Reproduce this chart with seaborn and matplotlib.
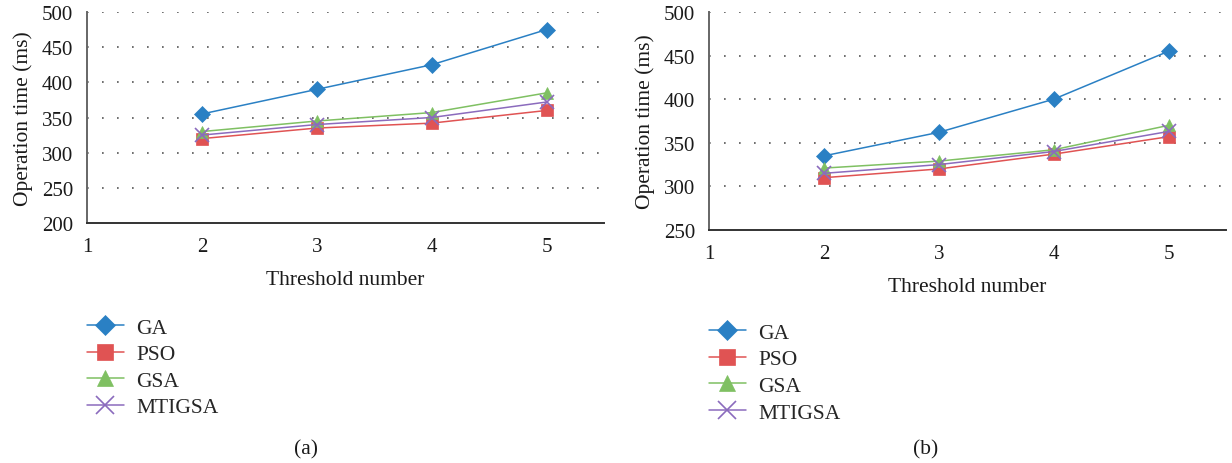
import pandas as pd
import numpy as np
import matplotlib.pyplot as plt
import seaborn as sns

thresholds = [2, 3, 4, 5]
methods = ["GA", "PSO", "GSA", "MTIGSA"]

# panel (a)
ga_a = [355, 390, 425, 475]
pso_a = [320, 335, 342, 360]
gsa_a = [330, 345, 357, 385]
mtigsa_a = [325, 340, 350, 372]

# panel (b)
ga_b = [335, 362, 400, 455]
pso_b = [310, 320, 337, 357]
gsa_b = [321, 329, 342, 370]
mtigsa_b = [315, 325, 340, 363]

colors = {"GA": "#2a80c4", "PSO": "#e05353", "GSA": "#7fc062", "MTIGSA": "#8b6bbd"}
markers = {"GA": "D", "PSO": "s", "GSA": "^", "MTIGSA": "x"}
msizes = {"GA": 8, "PSO": 9, "GSA": 9, "MTIGSA": 10}


def make_df(ga, pso, gsa, mtigsa):
    rows = []
    for name, vals in zip(methods, [ga, pso, gsa, mtigsa]):
        for t, v in zip(thresholds, vals):
            rows.append({"Threshold number": t, "Operation time (ms)": v, "method": name})
    return pd.DataFrame(rows)


sns.set_style("white")
plt.rcParams["font.family"] = ["Liberation Serif", "DejaVu Serif"]

fig = plt.figure(figsize=(12.32, 4.64), dpi=100)
ax_a = fig.add_axes([87 / 1232, 1 - 224 / 464, 517 / 1232, 211 / 464])
ax_b = fig.add_axes([709 / 1232, 1 - 231 / 464, 517 / 1232, 218 / 464])

panels = [
    (ax_a, make_df(ga_a, pso_a, gsa_a, mtigsa_a), (200, 500), 0.313, "(a)", 306),
    (ax_b, make_df(ga_b, pso_b, gsa_b, mtigsa_b), (250, 500), 0.302, "(b)", 926),
]

for ax, df, ylim, leg_y, tag, tag_x in panels:
    for name in methods:
        sub = df[df["method"] == name]
        sns.lineplot(data=sub, x="Threshold number", y="Operation time (ms)", ax=ax,
                     color=colors[name], marker=markers[name], markersize=msizes[name],
                     markeredgecolor=colors[name], markeredgewidth=1.2 if name == "MTIGSA" else 0.5,
                     linewidth=1.1, label=name, legend=False)

    ax.set_xlim(1, 5.5)
    ax.set_ylim(*ylim)
    ax.set_xticks(np.arange(1, 5.51, 0.5))
    ax.set_xticklabels([str(int(v)) if v == int(v) else "" for v in np.arange(1, 5.51, 0.5)])
    ax.set_yticks(np.arange(ylim[0], 501, 50))
    for y in np.arange(ylim[0] + 50, 501, 50):
        ax.axhline(y, color="#555555", linestyle=(0, (1, 8)), linewidth=1.2, zorder=0)

    for s in ["top", "right"]:
        ax.spines[s].set_visible(False)
    ax.spines["left"].set_color("#666666")
    ax.spines["bottom"].set_color("#333333")
    for s in ["left", "bottom"]:
        ax.spines[s].set_linewidth(1.4)
    ax.tick_params(axis="both", direction="out", length=4, width=1.2, color="#444444",
                   labelsize=15, labelcolor="#1a1a1a", pad=6)
    ax.set_xlabel("Threshold number", fontsize=15.5, color="#1a1a1a", labelpad=10)
    ax.set_ylabel("Operation time (ms)", fontsize=15.5, color="#1a1a1a", labelpad=6)

    handles, labels = ax.get_legend_handles_labels()
    ax.legend(handles, labels, loc="upper left", bbox_to_anchor=(ax.get_position().x0, leg_y),
              bbox_transform=fig.transFigure, frameon=False, fontsize=15.5,
              borderpad=0, borderaxespad=0, handlelength=1.7, handletextpad=0.6,
              labelspacing=0.3, markerscale=1.25)

    fig.text(tag_x / 1232, 1 - 450 / 464, tag, fontsize=15.5, color="#1a1a1a",
             ha="center", va="center")

plt.savefig("out.png", dpi=100)
